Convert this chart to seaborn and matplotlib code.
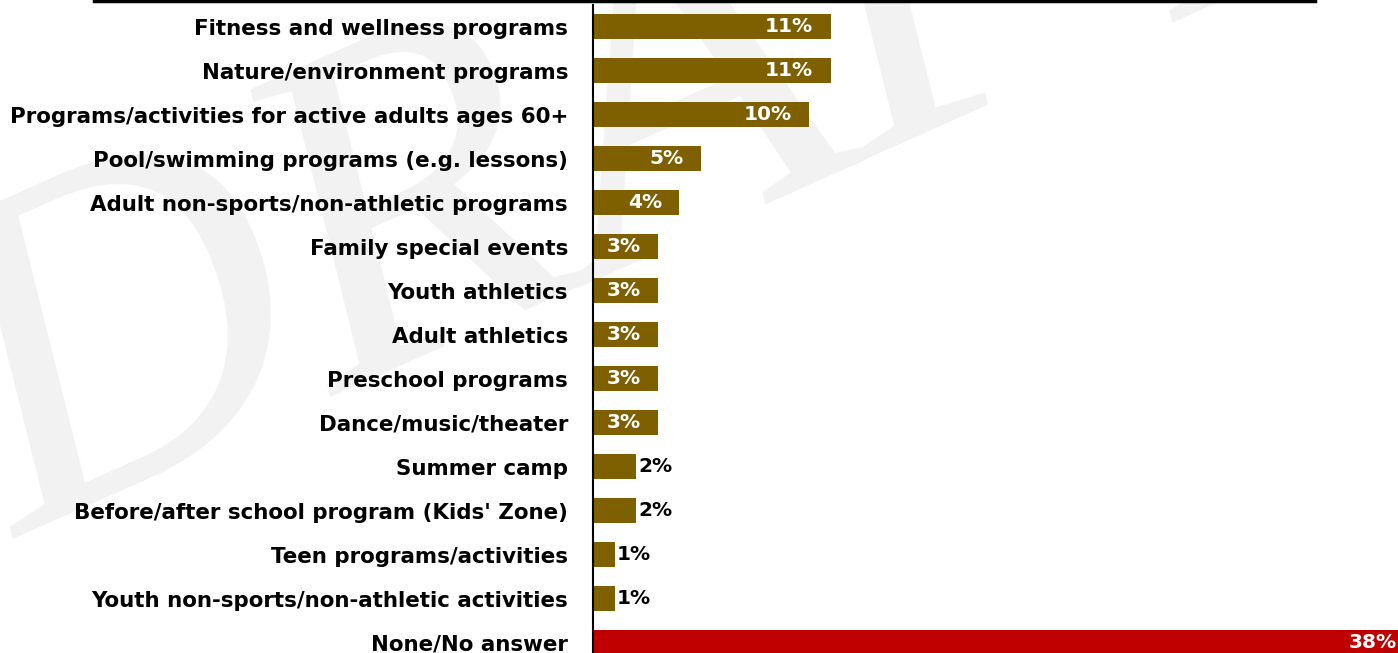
import matplotlib
matplotlib.use("Agg")
import matplotlib.pyplot as plt
import seaborn as sns
import pandas as pd
from matplotlib.lines import Line2D

categories = [
    "Fitness and wellness programs",
    "Nature/environment programs",
    "Programs/activities for active adults ages 60+",
    "Pool/swimming programs (e.g. lessons)",
    "Adult non-sports/non-athletic programs",
    "Family special events",
    "Youth athletics",
    "Adult athletics",
    "Preschool programs",
    "Dance/music/theater",
    "Summer camp",
    "Before/after school program (Kids' Zone)",
    "Teen programs/activities",
    "Youth non-sports/non-athletic activities",
    "None/No answer",
]
values = [11, 11, 10, 5, 4, 3, 3, 3, 3, 3, 2, 2, 1, 1, 38]
value_labels = ["11%", "11%", "10%", "5%", "4%", "3%", "3%", "3%", "3%", "3%",
                "2%", "2%", "1%", "1%", "38%"]

BROWN = "#7F6000"
RED = "#C00000"
colors = [BROWN] * (len(categories) - 1) + [RED]

W, H = 1398, 653
fig = plt.figure(figsize=(W / 100, H / 100), dpi=100)
fig.patch.set_facecolor("white")

# watermark
fig.text(18 / W, 1 - 540 / H, "DRAFT", fontsize=345, family="Liberation Serif",
         style="italic", color="#F2F2F2", rotation=24, rotation_mode="anchor",
         ha="left", va="baseline", zorder=-5)

ax = fig.add_axes([593 / W, 0, (W - 593) / W, 648 / H])
ax.patch.set_alpha(0)

df = pd.DataFrame({"cat": categories, "val": values})
sns.barplot(data=df, y="cat", x="val", hue="cat", palette=colors, legend=False,
            orient="h", width=0.57, ax=ax, saturation=1, edgecolor="none")

px_per_unit = 21.6
ax.set_xlim(0, (W - 593) / px_per_unit)
ax.set_ylim((H - 26.5) / 44, (5 - 26.5) / 44)

for s in ["top", "right", "bottom"]:
    ax.spines[s].set_visible(False)
ax.spines["left"].set_color("black")
ax.spines["left"].set_linewidth(1.5)
ax.set_xticks([])
ax.set_xlabel("")
ax.set_ylabel("")
ax.tick_params(axis="y", length=0, pad=18)
for lab in ax.get_yticklabels():
    lab.set_fontsize(15.4)
    lab.set_fontweight("bold")
    lab.set_family("DejaVu Sans")

for i, (v, t) in enumerate(zip(values, value_labels)):
    if v >= 3:
        ax.annotate(t, xy=(v, i), xytext=(-12.5, 0), textcoords="offset points",
                    ha="right", va="center", color="white", fontsize=14.5,
                    fontweight="bold", annotation_clip=False)
    else:
        ax.annotate(t, xy=(v, i), xytext=(1.5, 0), textcoords="offset points",
                    ha="left", va="center", color="black", fontsize=14.5,
                    fontweight="bold", annotation_clip=False)

fig.add_artist(Line2D([94 / W, 1315 / W], [1 - 1.2 / H, 1 - 1.2 / H],
                      color="black", linewidth=2.5))

fig.savefig("out.png", dpi=100)
